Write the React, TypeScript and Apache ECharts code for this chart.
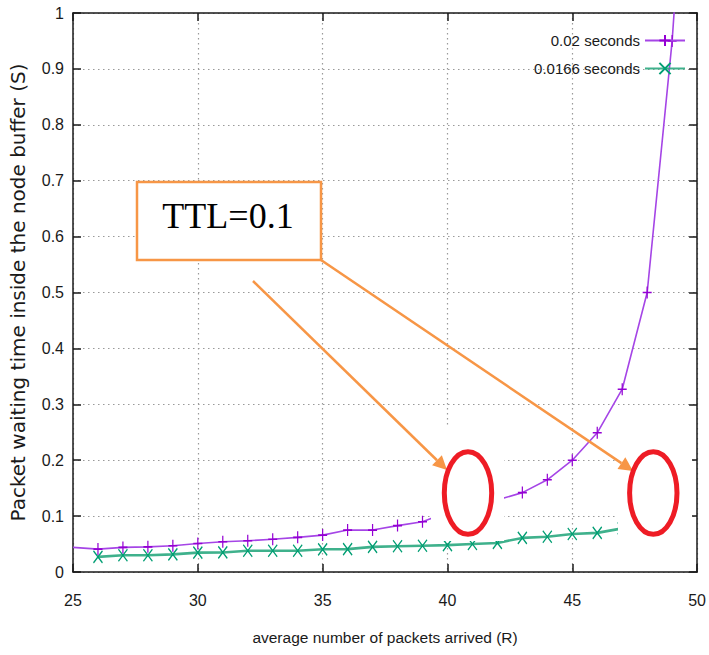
import React, { useEffect, useRef } from "react";
import * as echarts from "echarts";

// ---- data ----
const xTicks = [25, 30, 35, 40, 45, 50];
const yTicks = [0, 0.1, 0.2, 0.3, 0.4, 0.5, 0.6, 0.7, 0.8, 0.9, 1];

const seriesNames = ["0.02 seconds", "0.0166 seconds"];

const rPurple = [25, 26, 27, 28, 29, 30, 31, 32, 33, 34, 35, 36, 37, 38, 39, 40, 41, 42, 43, 44, 45, 46, 47, 48, 49, 50];
const sPurple = [0.044, 0.041, 0.044, 0.045, 0.047, 0.051, 0.054, 0.056, 0.0585, 0.062, 0.066, 0.075, 0.075, 0.083, 0.09, 0.107, 0.118, 0.129, 0.142, 0.165, 0.2, 0.249, 0.327, 0.5, 0.95, 1.6];

const rGreen = [26, 27, 28, 29, 30, 31, 32, 33, 34, 35, 36, 37, 38, 39, 40, 41, 42, 43, 44, 45, 46, 47];
const sGreen = [0.027, 0.03, 0.03, 0.0316, 0.0346, 0.035, 0.038, 0.038, 0.038, 0.0406, 0.041, 0.045, 0.046, 0.047, 0.048, 0.05, 0.052, 0.061, 0.063, 0.068, 0.07, 0.078];

const annotationText = "TTL=0.1";
const xName = "average number of packets arrived (R)";
const yName = "Packet waiting time inside the node buffer (S)";

// ---- styles ----
const SANS = "'Liberation Sans', Arial, sans-serif";
const WIDE = "'DejaVu Sans', Verdana, sans-serif";
const PURPLE = "#9400d3";
const GREEN = "#009e73";
const ORANGE = "#f79646";
const RED = "#ee1c25";
const PLUS = "path://M0,5L10,5M5,0L5,10";
const CROSS = "path://M0,0L10,10M10,0L0,10";

function arrow(x1: number, y1: number, x2: number, y2: number) {
  const dx = x2 - x1;
  const dy = y2 - y1;
  const len = Math.sqrt(dx * dx + dy * dy);
  const ux = dx / len;
  const uy = dy / len;
  const hl = 14;
  const hw = 7;
  const bx = x2 - ux * hl;
  const by = y2 - uy * hl;
  return [
    {
      type: "line",
      z: 60,
      shape: { x1, y1, x2: bx, y2: by },
      style: { stroke: ORANGE, lineWidth: 2.5 },
    },
    {
      type: "polygon",
      z: 60,
      shape: {
        points: [
          [x2, y2],
          [bx - uy * hw, by + ux * hw],
          [bx + uy * hw, by - ux * hw],
        ],
      },
      style: { fill: ORANGE },
    },
  ];
}

export default function App() {
  const ref = useRef<HTMLDivElement>(null);

  useEffect(() => {
    document.body.style.margin = "0";
    if (!ref.current) return;
    const chart = echarts.init(ref.current, null, { renderer: "svg" });

    const axisLineStyle = { color: "#1a1a1a", width: 1.5 };
    const tickStyle = { color: "#1a1a1a", width: 1.5 };
    const gridLine = { color: "#9a9a9a", width: 1.2, type: [1.5, 3.5] as any };

    const option: any = {
      animation: false,
      backgroundColor: "#ffffff",
      grid: { left: 72, right: 9, top: 13, bottom: 83, containLabel: false },
      legend: {
        data: seriesNames,
        orient: "vertical",
        right: 23,
        top: 33,
        align: "right",
        itemWidth: 40,
        itemHeight: 14,
        itemGap: 13,
        padding: 0,
        textStyle: { fontFamily: SANS, fontSize: 15, color: "#1a1a1a" },
      },
      xAxis: [
        {
          type: "value",
          position: "bottom",
          min: xTicks[0],
          max: xTicks[xTicks.length - 1],
          interval: xTicks[1] - xTicks[0],
          axisLine: { show: true, onZero: false, lineStyle: axisLineStyle },
          axisTick: { show: true, inside: true, length: 8, lineStyle: tickStyle },
          axisLabel: { margin: 20, fontSize: 16, fontFamily: SANS, color: "#1a1a1a" },
          splitLine: { show: true, lineStyle: gridLine },
          name: xName,
          nameLocation: "middle",
          nameGap: 57,
          nameTextStyle: { fontFamily: SANS, fontSize: 15.5, color: "#1a1a1a" },
        },
        {
          type: "value",
          position: "top",
          min: xTicks[0],
          max: xTicks[xTicks.length - 1],
          interval: xTicks[1] - xTicks[0],
          axisLine: { show: true, onZero: false, lineStyle: axisLineStyle },
          axisTick: { show: true, inside: true, length: 8, lineStyle: tickStyle },
          axisLabel: { show: false },
          splitLine: { show: false },
        },
      ],
      yAxis: [
        {
          type: "value",
          position: "left",
          min: yTicks[0],
          max: yTicks[yTicks.length - 1],
          interval: 0.1,
          axisLine: { show: true, onZero: false, lineStyle: axisLineStyle },
          axisTick: { show: true, inside: true, length: 8, lineStyle: tickStyle },
          axisLabel: { margin: 9, fontSize: 16, fontFamily: SANS, color: "#1a1a1a" },
          splitLine: { show: true, lineStyle: gridLine },
          name: yName,
          nameLocation: "middle",
          nameGap: 45,
          nameTextStyle: { fontFamily: WIDE, fontSize: 20, color: "#1a1a1a" },
        },
        {
          type: "value",
          position: "right",
          min: yTicks[0],
          max: yTicks[yTicks.length - 1],
          interval: 0.1,
          axisLine: { show: true, onZero: false, lineStyle: axisLineStyle },
          axisTick: { show: true, inside: true, length: 8, lineStyle: tickStyle },
          axisLabel: { show: false },
          splitLine: { show: false },
        },
      ],
      series: [
        {
          name: seriesNames[0],
          type: "line",
          xAxisIndex: 0,
          yAxisIndex: 0,
          clip: true,
          z: 3,
          symbol: PLUS,
          symbolSize: [9, 12],
          showAllSymbol: true,
          data: rPurple.map((r, i) =>
            i === 0 ? { value: [r, sPurple[i]], symbol: "none" } : [r, sPurple[i]]
          ),
          lineStyle: { color: "#a545e6", width: 1.6 },
          itemStyle: { color: PURPLE, borderColor: PURPLE, borderWidth: 1.4 },
        },
        {
          name: seriesNames[1],
          type: "line",
          xAxisIndex: 0,
          yAxisIndex: 0,
          clip: true,
          z: 2,
          symbol: CROSS,
          symbolSize: [9, 12],
          showAllSymbol: true,
          data: rGreen.map((r, i) => [r, sGreen[i]]),
          lineStyle: { color: "#2aa87f", width: 2.6, opacity: 0.9 },
          itemStyle: { color: GREEN, borderColor: GREEN, borderWidth: 1.4 },
        },
      ],
      graphic: [
        // white patches pasted behind the red circles in the reference
        { type: "rect", z: 50, shape: { x: 431, y: 427, width: 73, height: 114 }, style: { fill: "#ffffff" } },
        { type: "rect", z: 50, shape: { x: 618, y: 440, width: 74, height: 120 }, style: { fill: "#ffffff" } },
        {
          type: "ellipse",
          z: 61,
          shape: { cx: 468, cy: 493, rx: 23.7, ry: 41.3 },
          style: { fill: "none", stroke: RED, lineWidth: 5 },
        },
        {
          type: "ellipse",
          z: 61,
          shape: { cx: 653.3, cy: 493, rx: 23.7, ry: 41.3 },
          style: { fill: "none", stroke: RED, lineWidth: 5 },
        },
        {
          type: "rect",
          z: 60,
          shape: { x: 137, y: 182, width: 184, height: 78 },
          style: { fill: "#ffffff", stroke: ORANGE, lineWidth: 2.5 },
        },
        {
          type: "text",
          z: 62,
          x: 228,
          y: 216,
          style: {
            text: annotationText,
            font: "36px 'Liberation Serif', 'Times New Roman', serif",
            fill: "#000000",
            align: "center",
            verticalAlign: "middle",
          },
        },
        ...arrow(253, 281, 447, 470),
        ...arrow(321, 260, 633, 471),
      ],
    };

    chart.setOption(option);
    return () => chart.dispose();
  }, []);

  return (
    <div
      ref={ref}
      style={{ position: "absolute", left: 0, top: 0, width: 709, height: 655 }}
    />
  );
}
